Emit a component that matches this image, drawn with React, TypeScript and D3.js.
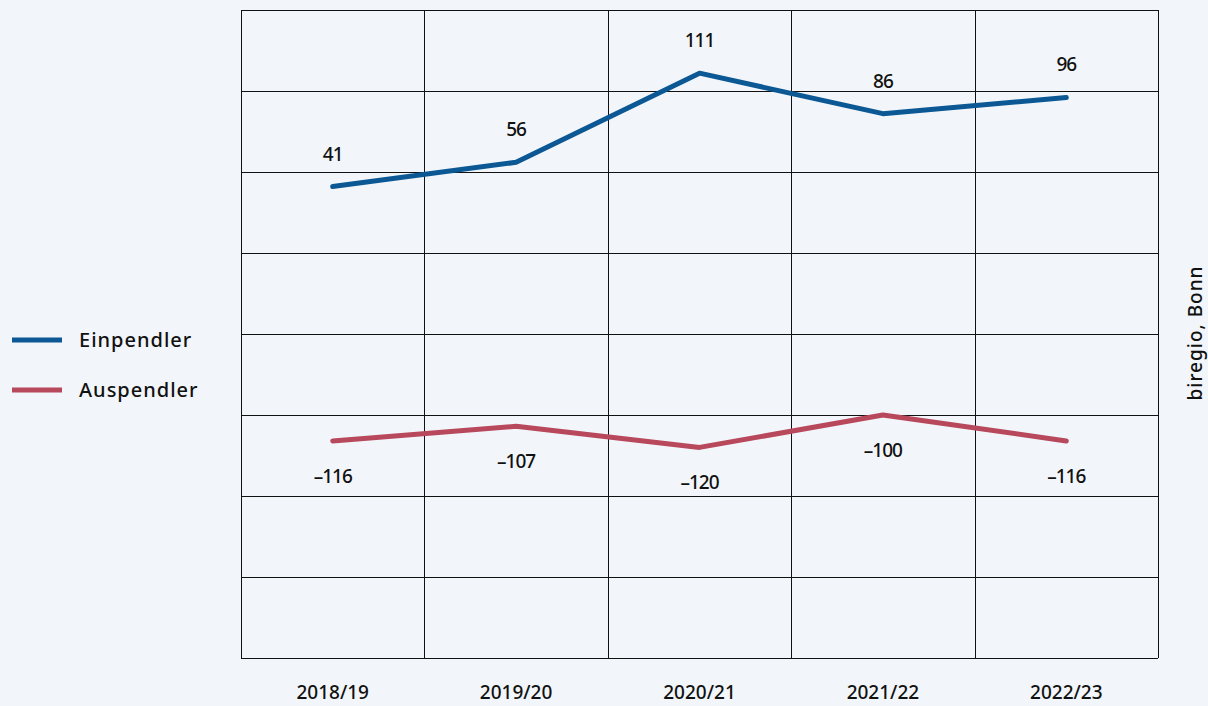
import * as d3 from "d3";
import React, { useEffect, useRef } from "react";

const years = ["2018/19", "2019/20", "2020/21", "2021/22", "2022/23"];
const einpendler = [41, 56, 111, 86, 96];
const auspendler = [-116, -107, -120, -100, -116];
const yTicks = [-250, -200, -150, -100, -50, 0, 50, 100, 150];

const width = 1208, height = 706;
const font = "'Noto Sans', sans-serif";

const App = () => {
    const ref = useRef<SVGSVGElement>(null);

    useEffect(() => {
        document.body.style.margin = "0";
        document.body.style.background = "#f2f6fa";
        const svg = d3.select(ref.current);
        svg.selectAll("*").remove();

        const left = 241, right = 1158, top = 10, bottom = 658;

        const x = d3.scaleBand().domain(years).range([left, right]);
        const y = d3.scaleLinear().domain([-250, 150]).range([bottom, top]);

        svg.append("rect").attr("width", width).attr("height", height).attr("fill", "#f2f6fa");

        const grid = svg.append("g").attr("stroke", "#111").attr("stroke-width", 1);
        grid.selectAll("line.h").data(yTicks).join("line")
            .attr("x1", left).attr("x2", right)
            .attr("y1", d => Math.round(y(d)) + 0.5).attr("y2", d => Math.round(y(d)) + 0.5);
        const xs = years.map(d => x(d)!).concat([right]);
        grid.selectAll("line.v").data(xs).join("line")
            .attr("y1", top).attr("y2", bottom)
            .attr("x1", d => Math.round(d) + 0.5).attr("x2", d => Math.round(d) + 0.5);

        const cx = (i: number) => x(years[i])! + x.bandwidth() / 2;
        const line = d3.line<number>().x((d, i) => cx(i)).y(d => y(d));

        const series = [
            { name: "Einpendler", data: einpendler, color: "#0b5894", dy: -26 },
            { name: "Auspendler", data: auspendler, color: "#b8485b", dy: 42 },
        ];

        series.forEach(s => {
            svg.append("path").datum(s.data).attr("d", line)
                .attr("fill", "none").attr("stroke", s.color)
                .attr("stroke-width", 5).attr("stroke-linecap", "round").attr("stroke-linejoin", "round");
            svg.append("g").selectAll("text").data(s.data).join("text")
                .attr("x", (d, i) => cx(i)).attr("y", d => y(d) + s.dy)
                .attr("text-anchor", "middle").attr("font-family", font)
                .attr("font-size", 19).attr("font-weight", 500).attr("fill", "#111")
                .attr("letter-spacing", -1)
                .text(d => (d < 0 ? "\u2013" + Math.abs(d) : String(d)));
        });

        svg.append("g").selectAll("text").data(years).join("text")
            .attr("x", (d, i) => cx(i)).attr("y", 699)
            .attr("text-anchor", "middle").attr("font-family", font)
            .attr("font-size", 19).attr("font-weight", 500).attr("fill", "#111")
            .text(d => d);

        const legend = svg.append("g");
        series.forEach((s, i) => {
            const ly = 340 + i * 50;
            legend.append("line").attr("x1", 12).attr("x2", 62).attr("y1", ly).attr("y2", ly)
                .attr("stroke", s.color).attr("stroke-width", 5);
            legend.append("text").attr("x", 79).attr("y", ly + 7)
                .attr("font-family", font).attr("font-size", 20).attr("font-weight", 500)
                .attr("letter-spacing", 1).attr("fill", "#111").text(s.name);
        });

        svg.append("text")
            .attr("transform", "translate(1202,333) rotate(-90)")
            .attr("text-anchor", "middle").attr("font-family", font)
            .attr("font-size", 19).attr("font-weight", 500).attr("fill", "#111")
            .attr("letter-spacing", 1)
            .text("biregio, Bonn");
    }, []);

    return <svg ref={ref} width={width} height={height} style={{ display: "block" }} />;
};

export default App;
